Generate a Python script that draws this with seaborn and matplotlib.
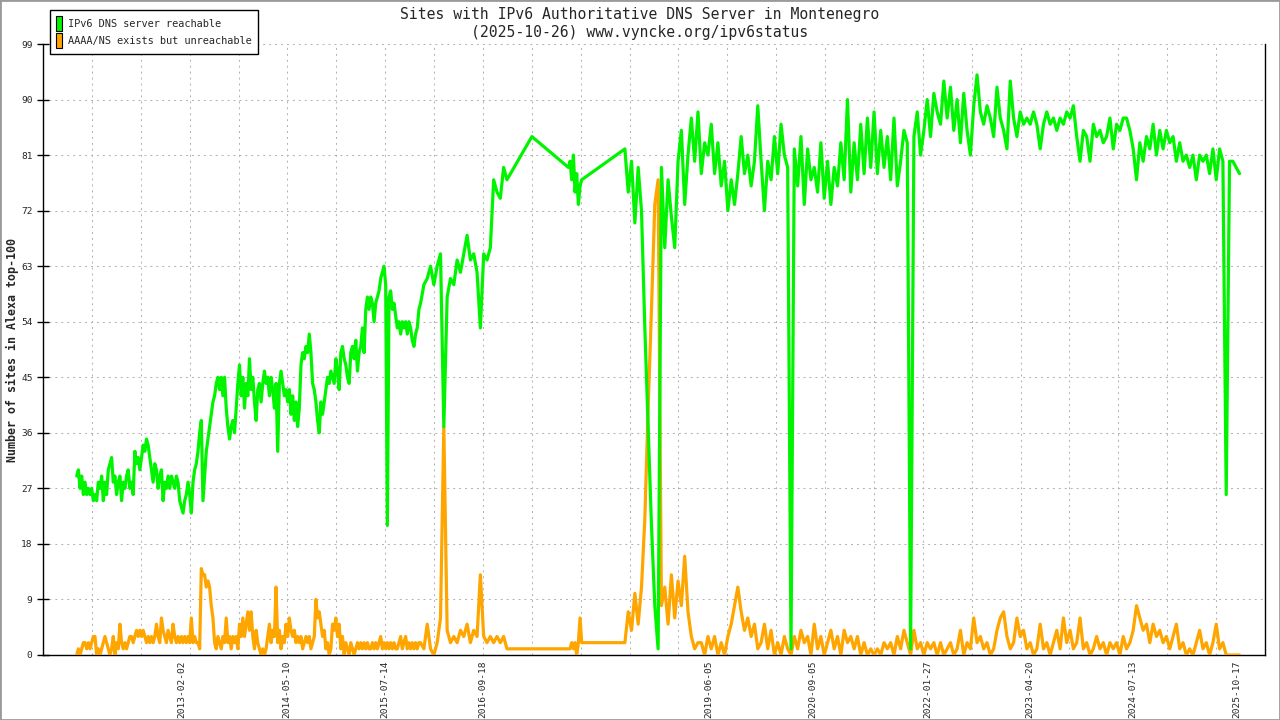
import numpy as np
import pandas as pd
import matplotlib
matplotlib.use("Agg")
import matplotlib.pyplot as plt
import matplotlib.dates as mdates
from matplotlib.patches import Patch, Rectangle
import seaborn as sns

start_a, step_a = 2011.82, 0.02
start_b, step_b = 2015.96, 0.04
start_c, step_c = 2018.42, 0.04

green_a = [
    29, 30, 27, 29, 26, 28, 26, 27, 26, 27,
    25, 26, 25, 28, 27, 29, 25, 28, 26, 30,
    31, 32, 28, 29, 26, 28, 29, 25, 28, 27,
    29, 30, 27, 28, 26, 33, 31, 32, 30, 32,
    34, 33, 35, 34, 32, 30, 28, 31, 30, 27,
    29, 30, 25, 28, 27, 29, 27, 29, 28, 27,
    29, 28, 25, 24, 23, 25, 26, 28, 26, 23,
    28, 30, 31, 33, 36, 38, 25, 29, 33, 35,
    37, 39, 41, 42, 44, 45, 43, 45, 42, 45,
    40, 37, 35, 37, 38, 36, 40, 44, 47, 42,
    45, 40, 44, 42, 48, 43, 45, 41, 38, 43,
    44, 41, 44, 46, 44, 45, 42, 45, 43, 40,
    44, 33, 44, 46, 44, 42, 43, 41, 43, 39,
    42, 38, 41, 37, 40, 47, 49, 48, 50, 49,
    52, 49, 44, 43, 41, 38, 36, 41, 39, 41,
    43, 45, 44, 46, 45, 44, 48, 46, 43, 49,
    50, 48, 47, 45, 44, 49, 50, 48, 51, 46,
    49, 50, 53, 49, 56, 58, 56, 58, 57, 54,
    57, 58, 59, 61, 62, 63, 60, 21, 58, 59,
    56, 57, 55, 53, 54, 52, 54, 53, 54, 52,
    54, 53, 51, 50, 52, 53, 56,
]
orange_a = [
    0, 1, 0, 1, 2, 2, 1, 2, 1, 2,
    3, 3, 0, 1, 0, 1, 2, 3, 2, 1,
    0, 1, 3, 0, 2, 1, 5, 2, 1, 2,
    1, 2, 3, 3, 2, 3, 4, 3, 4, 3,
    4, 3, 2, 3, 2, 3, 2, 3, 5, 3,
    2, 6, 4, 3, 2, 4, 3, 2, 5, 3,
    2, 3, 2, 3, 2, 3, 2, 3, 2, 6,
    2, 3, 2, 2, 1, 14, 13, 13, 11, 12,
    11, 8, 6, 2, 1, 3, 2, 1, 3, 2,
    6, 2, 3, 1, 3, 2, 3, 1, 5, 3,
    6, 3, 5, 7, 4, 7, 3, 1, 4, 2,
    1, 0, 1, 0, 1, 3, 5, 2, 4, 3,
    11, 2, 4, 1, 3, 2, 5, 3, 6, 4,
    3, 4, 2, 3, 2, 3, 1, 2, 3, 2,
    3, 1, 2, 3, 9, 6, 7, 5, 3, 4,
    1, 2, 0, 1, 5, 4, 6, 3, 5, 1,
    3, 0, 2, 1, 0, 2, 1, 0, 1, 2,
    1, 2, 1, 2, 1, 2, 1, 1, 2, 1,
    2, 1, 2, 3, 1, 2, 1, 2, 1, 2,
    1, 2, 1, 1, 2, 3, 1, 2, 3, 1,
    2, 1, 2, 1, 2, 1, 2,
]

green_b = [57, 60, 61, 63, 60, 63, 65, 37, 58, 61,
           60, 64, 62, 65, 68, 64, 65, 62, 53, 65,
           64, 66, 77, 75, 74, 79, 77]
orange_b = [2, 1, 5, 1, 0, 2, 6, 37, 4, 2,
            3, 2, 4, 3, 5, 2, 4, 3, 13, 3,
            2, 3, 2, 3, 2, 3, 1]

# sparse period 2017-2018 (few measurements, straight segments)
green_gap_years = [2017.30, 2017.74, 2017.76, 2017.78, 2017.80, 2017.82, 2017.84, 2017.86, 2017.88, 2017.90]
green_gap = [84, 79, 80, 77, 81, 75, 78, 73, 76, 77]
orange_gap_years = [2017.02, 2017.76, 2017.78, 2017.80, 2017.82, 2017.84, 2017.86, 2017.88, 2017.90, 2017.92]
orange_gap = [1, 1, 2, 1, 2, 0, 2, 6, 2, 2]

green_c = [
    82, 75, 80, 70, 79, 72, 53, 37, 21, 8, 1,
    79, 66, 77, 71, 66, 80, 85, 73, 81, 87,
    80, 88, 78, 83, 81, 86, 78, 83, 76, 80,
    72, 77, 73, 78, 84, 78, 81, 76, 80, 89,
    80, 72, 80, 77, 84, 78, 86, 81, 79, 1,
    82, 76, 84, 73, 82, 77, 79, 75, 83, 74,
    80, 73, 79, 76, 83, 77, 90, 75, 83, 77,
    86, 78, 87, 79, 88, 78, 85, 79, 84, 77,
    87, 76, 80, 85, 83, 1, 84, 88, 81, 85,
    90, 84, 91, 88, 86, 93, 87, 92, 85, 90,
    83, 91, 85, 81, 89, 94,
    88, 86, 89, 87, 84, 92, 87, 85, 82, 93,
    87, 84, 88, 86, 87, 86, 88, 86, 82, 86,
    88, 86, 87, 85, 87, 86, 88, 87, 89, 84,
    80, 85, 84, 80, 86, 84, 85, 83, 84, 87,
    82, 86, 85, 87, 87, 85, 82, 77, 83, 80,
    84, 82, 86, 81, 85, 82, 85, 83, 84, 80,
    83, 80, 81, 79, 81, 77, 81, 80, 81, 78,
    82, 77, 82, 80, 26, 80, 80, 79, 78,
]
orange_c = [
    2, 7, 4, 10, 5, 11, 22, 40, 56, 73, 77,
    8, 11, 5, 13, 6, 12, 8, 16, 7, 3, 1, 2,
    2, 0, 3, 1, 3, 0, 2, 0, 3, 5,
    8, 11, 7, 4, 6, 3, 5, 1, 2, 5,
    1, 4, 0, 2, 0, 3, 1, 0, 3, 1,
    4, 2, 3, 0, 5, 1, 3, 0, 2, 4,
    1, 3, 0, 4, 2, 3, 1, 3, 0, 2,
    0, 1, 0, 1, 0, 2, 1, 2, 0, 3,
    1, 4, 2, 0, 4, 1, 2, 0, 2, 1,
    2, 0, 2, 0, 1, 2, 0, 1, 4, 0,
    2, 1, 6, 2, 3, 1, 2, 0, 1, 4,
    6, 7, 3, 1, 2, 6, 3, 4, 1, 2,
    0, 1, 5, 1, 2, 0, 2, 4, 1, 6,
    2, 4, 1, 2, 6, 1, 2, 0, 1, 3,
    1, 2, 0, 2, 1, 2, 0, 3, 1, 2,
    4, 8, 6, 4, 5, 2, 5, 3, 4, 2,
    3, 1, 3, 5, 1, 2, 0, 1, 0, 2,
    4, 1, 2, 0, 2, 5, 1, 2, 0, 0,
    0, 0, 0,
]

label_dates = ["2013-02-02", "2014-05-10", "2015-07-14", "2016-09-18", "2019-06-05",
               "2020-09-05", "2022-01-27", "2023-04-20", "2024-07-13", "2025-10-17"]

GREEN = "#00f400"
ORANGE = "#ffa500"


def to_date(years):
    years = np.asarray(years, dtype=float)
    return pd.Timestamp("2000-01-01") + pd.to_timedelta((years - 2000) * 365.25, unit="D")


def grid_years(start, step, vals):
    return start + step * np.arange(len(vals))


def build(a, b, gap_years, gap, c):
    yrs = np.concatenate([grid_years(start_a, step_a, a), grid_years(start_b, step_b, b),
                          gap_years, grid_years(start_c, step_c, c)])
    vals = list(a) + list(b) + list(gap) + list(c)
    return pd.DataFrame({"date": to_date(yrs), "sites": vals})


green_df = build(green_a, green_b, green_gap_years, green_gap, green_c)
orange_df = build(orange_a, orange_b, orange_gap_years, orange_gap, orange_c)

sns.set_theme(style="white")
plt.rcParams["font.family"] = ["DejaVu Sans Mono", "DejaVu Sans"]

fig = plt.figure(figsize=(12.8, 7.2), dpi=100)
ax = fig.add_axes([43 / 1280, 1 - 655 / 720, (1265 - 43) / 1280, (655 - 44) / 720])

sns.lineplot(data=orange_df, x="date", y="sites", color=ORANGE, lw=2.3,
             estimator=None, sort=False, ax=ax, zorder=3)
sns.lineplot(data=green_df, x="date", y="sites", color=GREEN, lw=2.3,
             estimator=None, sort=False, ax=ax, zorder=4)

x0, x1 = to_date([2011.414, 2026.127])
ax.set_xlim(x0, x1)
ax.set_ylim(0, 99)
ax.set_yticks(range(0, 100, 9))

major = np.linspace(mdates.date2num(x0), mdates.date2num(x1), 26)
ax.set_xticks(major)
ax.set_xticklabels([])
ax.set_xticks(pd.to_datetime(label_dates), minor=True)
ax.set_xticklabels(label_dates, minor=True)
ax.tick_params(axis="x", which="major", direction="inout", length=9, width=1, color="black")
ax.tick_params(axis="x", which="minor", length=0, pad=4, labelsize=6.8, labelrotation=90)
ax.tick_params(axis="y", direction="inout", length=9, width=1, color="black",
               labelsize=6.8, pad=3, left=True)

ax.grid(True, which="major", axis="both", color="#b4b4b4", lw=0.75, linestyle=(0, (1.9, 3.8)))
ax.set_axisbelow(True)
for side in ["left", "bottom", "right"]:
    ax.spines[side].set_color("black")
    ax.spines[side].set_linewidth(1)
ax.spines["top"].set_visible(False)
ax.set_xlabel("")
ax.set_ylabel("")

fig.text(0.5, 1 - 14 / 720, "Sites with IPv6 Authoritative DNS Server in Montenegro",
         ha="center", va="center", fontsize=10.6)
fig.text(0.5, 1 - 32 / 720, "(2025-10-26) www.vyncke.org/ipv6status",
         ha="center", va="center", fontsize=10.6)
fig.text(12 / 1280, 1 - 350 / 720, "Number of sites in Alexa top-100", rotation=90,
         ha="center", va="center", fontsize=8.4, fontweight="bold")

handles = [Patch(facecolor=GREEN, edgecolor="black", lw=0.8),
           Patch(facecolor=ORANGE, edgecolor="black", lw=0.8)]
leg = fig.legend(handles, ["IPv6 DNS server reachable", "AAAA/NS exists but unreachable"],
                 loc="upper left", bbox_to_anchor=(50 / 1280, 1 - 10 / 720),
                 fontsize=7.4, frameon=True, fancybox=False, framealpha=1,
                 edgecolor="black", handlelength=0.65, handleheight=1.9,
                 borderpad=0.55, labelspacing=0.2, handletextpad=0.6, borderaxespad=0)
leg.get_frame().set_linewidth(1)

fig.patches.append(Rectangle((0, 0), 1, 1, transform=fig.transFigure, fill=False,
                             edgecolor="#9a9a9a", lw=2))

fig.savefig("out.png", dpi=100)
